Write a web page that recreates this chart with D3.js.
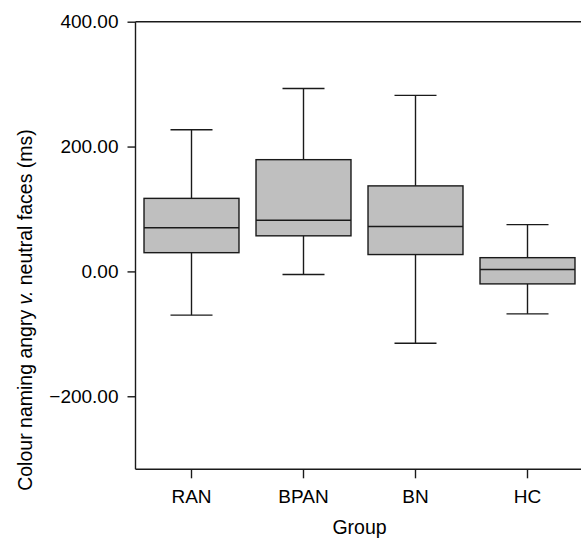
<!DOCTYPE html>
<html>
<head>
<meta charset="utf-8">
<script src="https://cdn.jsdelivr.net/npm/d3@7"></script>
<style>
body { margin: 0; background: #fff; }
svg { display: block; font-family: "Liberation Sans", Arial, sans-serif; }
.axis path, .axis line { stroke: #1a1a1a; stroke-width: 1.4px; }
.axis text { font-size: 19px; fill: #000; }
</style>
</head>
<body>
<svg id="plot"></svg>
<script>
var width = 581;
var height = 539;

var groups = ["RAN", "BPAN", "BN", "HC"];
var whiskerLow = [-70, -5, -115, -68];
var q1 = [30, 57, 27, -20];
var median = [70, 82, 72, 3];
var q3 = [117, 179, 137, 22];
var whiskerHigh = [227, 293, 282, 75];
var yTicks = [-200, 0, 200, 400];

var svg = d3.select("#plot")
    .attr("width", width)
    .attr("height", height);

var plotLeft = 135.5, plotRight = 583.5, plotTop = 21.7, plotBottom = 469.3;
var ink = "#1a1a1a";

var xScale = d3.scaleBand()
    .domain(groups)
    .range([plotLeft, plotRight]);
var yScale = d3.scaleLinear()
    .domain([-317, 400])
    .range([plotBottom, plotTop]);

var bw = xScale.bandwidth();
var boxW = bw * 0.848;
var capW = bw * 0.375;

// top border of the frame
svg.append("line")
    .attr("x1", plotLeft).attr("x2", plotRight + 10)
    .attr("y1", plotTop).attr("y2", plotTop)
    .attr("stroke", ink).attr("stroke-width", 1.4);

svg.append("g")
    .attr("id", "y-axis")
    .attr("class", "axis")
    .attr("transform", "translate(" + plotLeft + ",0)")
    .call(d3.axisLeft(yScale).tickValues(yTicks).tickSize(8).tickSizeOuter(0).tickPadding(9)
        .tickFormat(function (d) { return d3.format(".2f")(d).replace("-", "\u2212"); }));

svg.append("g")
    .attr("id", "x-axis")
    .attr("class", "axis")
    .attr("transform", "translate(0," + plotBottom + ")")
    .call(d3.axisBottom(xScale).tickSize(9).tickSizeOuter(0).tickPadding(11));

svg.select("#y-axis path").attr("d", "M0," + plotTop + "V" + plotBottom);
svg.select("#x-axis path").attr("d", "M" + plotLeft + ",0H" + (plotRight + 10));

var boxes = svg.append("g").selectAll("g")
    .data(groups)
    .enter()
    .append("g")
    .attr("transform", function (d) { return "translate(" + (xScale(d) + bw / 2) + ",0)"; });

// whiskers
boxes.append("line")
    .attr("x1", 0).attr("x2", 0)
    .attr("y1", function (d, i) { return yScale(whiskerHigh[i]); })
    .attr("y2", function (d, i) { return yScale(q3[i]); })
    .attr("stroke", ink).attr("stroke-width", 1.4);
boxes.append("line")
    .attr("x1", 0).attr("x2", 0)
    .attr("y1", function (d, i) { return yScale(q1[i]); })
    .attr("y2", function (d, i) { return yScale(whiskerLow[i]); })
    .attr("stroke", ink).attr("stroke-width", 1.4);
boxes.append("line")
    .attr("x1", -capW / 2).attr("x2", capW / 2)
    .attr("y1", function (d, i) { return yScale(whiskerHigh[i]); })
    .attr("y2", function (d, i) { return yScale(whiskerHigh[i]); })
    .attr("stroke", ink).attr("stroke-width", 1.4);
boxes.append("line")
    .attr("x1", -capW / 2).attr("x2", capW / 2)
    .attr("y1", function (d, i) { return yScale(whiskerLow[i]); })
    .attr("y2", function (d, i) { return yScale(whiskerLow[i]); })
    .attr("stroke", ink).attr("stroke-width", 1.4);

// box + median
boxes.append("rect")
    .attr("x", -boxW / 2)
    .attr("width", boxW)
    .attr("y", function (d, i) { return yScale(q3[i]); })
    .attr("height", function (d, i) { return yScale(q1[i]) - yScale(q3[i]); })
    .attr("fill", "#bfbfbf")
    .attr("stroke", ink).attr("stroke-width", 1.4);
boxes.append("line")
    .attr("x1", -boxW / 2).attr("x2", boxW / 2)
    .attr("y1", function (d, i) { return yScale(median[i]); })
    .attr("y2", function (d, i) { return yScale(median[i]); })
    .attr("stroke", ink).attr("stroke-width", 1.4);

svg.append("text")
    .attr("x", (plotLeft + plotRight) / 2)
    .attr("y", 534)
    .attr("text-anchor", "middle")
    .style("font-size", "19.5px")
    .attr("fill", "#000")
    .text("Group");

var ylab = svg.append("text")
    .attr("transform", "translate(32,310) rotate(-90)")
    .attr("text-anchor", "middle")
    .style("font-size", "19.5px")
    .attr("fill", "#000");
ylab.append("tspan").text("Colour naming angry ");
ylab.append("tspan").style("font-style", "italic").text("v.");
ylab.append("tspan").text(" neutral faces (ms)");
</script>
</body>
</html>
